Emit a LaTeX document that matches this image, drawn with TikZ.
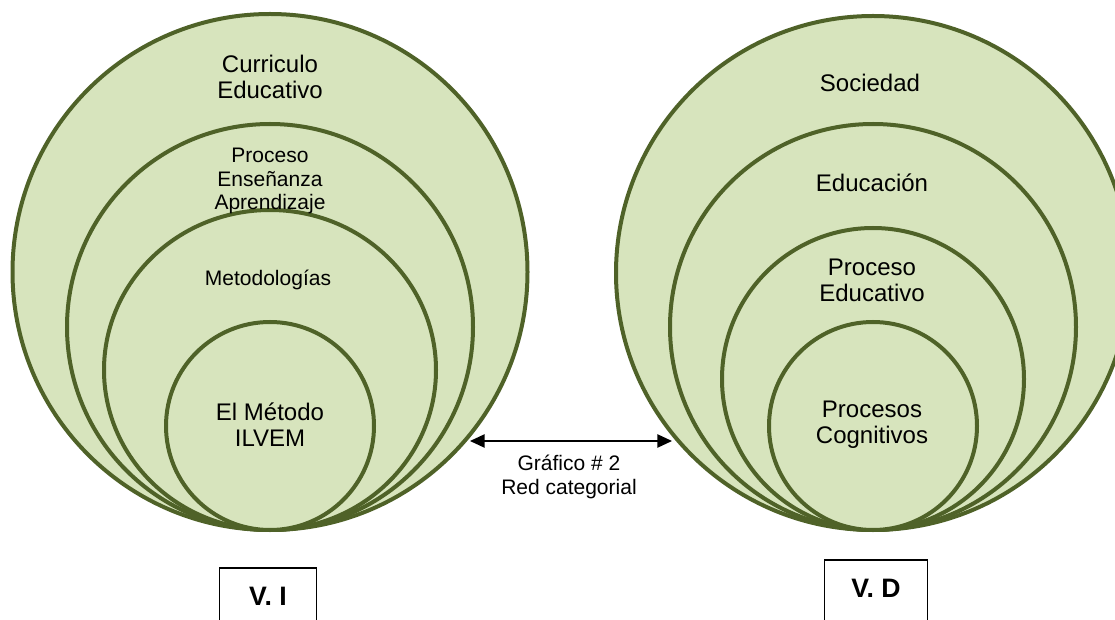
\documentclass[tikz,border=0pt]{standalone}
\usepackage{fontspec}
\setmainfont{Liberation Sans}
\usetikzlibrary{shapes.geometric,arrows.meta}
\definecolor{ringfill}{HTML}{D7E4BD}
\definecolor{ringline}{HTML}{4F6228}

\begin{document}
\begin{tikzpicture}[x=0.75pt,y=-0.75pt,
	ring/.style={ellipse,draw=ringline,fill=ringfill,line width=3pt,inner sep=0pt},
	big/.style={align=center,font=\fontsize{18}{19.5}\selectfont},
	small/.style={align=center,font=\fontsize{15.75}{17.5}\selectfont},
	vbox/.style={draw,line width=0.8pt,font=\fontsize{20}{22}\selectfont\bfseries}]
\useasboundingbox (0,0) rectangle (1115,620);

% V. I
\node [ring,minimum width=386.25pt,minimum height=387pt] (L1) at (270,272) {};
\node [ring,minimum width=304.5pt,minimum height=304.5pt] (L2) at (270,327) {};
\node [ring,minimum width=249pt,minimum height=240pt] (L3) at (270,370) {};
\node [ring,minimum width=156pt,minimum height=156pt] (L4) at (270,426) {};
\node [big] (curr) at (270,77) {Curriculo\\Educativo};
\node [small] (proc) at (270,181) {Proceso\\Enseñanza\\Aprendizaje};
\node [small] (meto) at (268,280) {Metodologías};
\node [big] (ilvem) at (270,425) {El Método\\ILVEM};

% V. D
\node [ring,minimum width=385.5pt,minimum height=385.5pt] (R1) at (873,273) {};
\node [ring,minimum width=304.5pt,minimum height=304.5pt] (R2) at (873,327) {};
\node [ring,minimum width=226.5pt,minimum height=226.5pt] (R3) at (873,379) {};
\node [ring,minimum width=156pt,minimum height=156pt] (R4) at (873,426) {};
\node [big] (soc) at (870,83) {Sociedad};
\node [big] (edu) at (872,183) {Educación};
\node [big] (pedu) at (872,280) {Proceso\\Educativo};
\node [big] (cog) at (872,425) {Procesos\\Cognitivos};

% arrow
\coordinate (aL) at (470,441);
\coordinate (aR) at (672,441);
\draw [{Triangle[length=11pt,width=10pt]}-{Triangle[length=11pt,width=10pt]},line width=1.1pt] (aL) -- (aR);
\node [small] (graf) at (569,477) {Gráfico \# 2\\Red categorial};

\node [vbox,minimum width=72.75pt,minimum height=42pt] (vi) at (268,596) {V. I};
\node [vbox,minimum width=77.25pt,minimum height=48pt,text depth=6pt] (vd) at (876,592) {V. D};
\end{tikzpicture}
\end{document}
